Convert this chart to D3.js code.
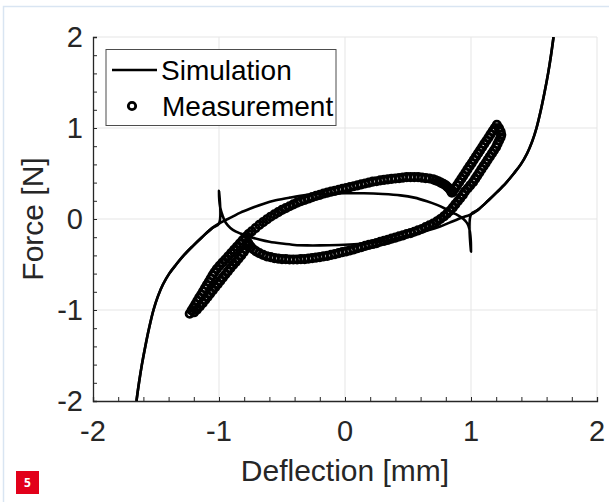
<!DOCTYPE html>
<html>
<head>
<meta charset="utf-8">
<script src="https://cdn.jsdelivr.net/npm/d3@7"></script>
<style>
  body { margin: 0; background: #fff; }
  svg { display: block; font-family: "Liberation Sans", Arial, sans-serif; }
</style>
</head>
<body>
<svg id="chart" width="609" height="502"></svg>
<script>
// Tick values
const xTicks = [-2, -1, 0, 1, 2];
const yTicks = [-2, -1, 0, 1, 2];
const minorStep = 0.2;

// Simulation: loading path (outer left -> spike at -1 -> lower arc -> outer right)
const simLoading = [
  [-1.655,-2],[-1.635,-1.8],[-1.612,-1.6],[-1.585,-1.4],[-1.555,-1.2],[-1.52,-1.0],
  [-1.485,-0.85],[-1.445,-0.72],[-1.395,-0.6],[-1.34,-0.5],[-1.28,-0.4],[-1.21,-0.3],
  [-1.135,-0.2],[-1.055,-0.1],[-1.0,-0.05],
  [-1.0,0.31],[-0.999,0.24],[-0.995,0.17],[-0.986,0.10],[-0.972,0.04],[-0.955,-0.02],
  [-0.93,-0.07],[-0.89,-0.12],[-0.83,-0.16],[-0.76,-0.195],[-0.68,-0.225],[-0.6,-0.25],
  [-0.5,-0.27],[-0.4,-0.285],[-0.3,-0.29],[-0.2,-0.29],[-0.05,-0.285],[0.1,-0.275],
  [0.25,-0.255],[0.4,-0.215],[0.55,-0.165],[0.66,-0.125],[0.75,-0.085],[0.83,-0.04],
  [0.9,0.0],[0.96,0.03],[1.0,0.05],[1.055,0.1],[1.135,0.2],[1.21,0.3],[1.28,0.4],
  [1.34,0.5],[1.395,0.6],[1.445,0.72],[1.485,0.85],[1.52,1.0],[1.555,1.2],[1.585,1.4],
  [1.612,1.6],[1.635,1.8],[1.655,2.0]
];

// Simulation: unloading path (outer right -> spike at 1 -> upper arc -> outer left)
const simUnloading = [
  [1.655,2.0],[1.635,1.8],[1.612,1.6],[1.585,1.4],[1.555,1.2],[1.52,1.0],[1.485,0.85],
  [1.445,0.72],[1.395,0.6],[1.34,0.5],[1.28,0.4],[1.21,0.3],[1.135,0.2],[1.055,0.1],[1.0,0.05],
  [1.0,-0.36],[0.999,-0.26],[0.995,-0.18],[0.987,-0.11],[0.975,-0.06],[0.955,-0.02],
  [0.92,0.02],[0.87,0.06],[0.80,0.11],[0.73,0.155],[0.65,0.195],[0.55,0.235],[0.44,0.26],
  [0.3,0.275],[0.15,0.283],[0.0,0.283],[-0.15,0.278],[-0.3,0.265],[-0.44,0.235],
  [-0.55,0.205],[-0.65,0.165],[-0.75,0.115],[-0.83,0.07],[-0.9,0.02],[-0.96,-0.02],
  [-1.0,-0.05],[-1.055,-0.1],[-1.135,-0.2],[-1.21,-0.3],[-1.28,-0.4],[-1.34,-0.5],
  [-1.395,-0.6],[-1.445,-0.72],[-1.485,-0.85],[-1.52,-1.0],[-1.555,-1.2],[-1.585,-1.4],
  [-1.612,-1.6],[-1.635,-1.8],[-1.655,-2]
];

const measurement = [
  [-1.232,-1.04],[-1.217,-1.005],[-1.202,-0.97],[-1.187,-0.935],[-1.172,-0.90],[-1.157,-0.865],
  [-1.141,-0.83],[-1.126,-0.795],[-1.111,-0.76],[-1.096,-0.725],[-1.081,-0.69],[-1.066,-0.655],
  [-1.051,-0.62],[-1.036,-0.585],[-1.018,-0.55],[-0.996,-0.515],[-0.973,-0.48],[-0.95,-0.445],
  [-0.927,-0.41],[-0.904,-0.375],[-0.881,-0.34],[-0.859,-0.305],[-0.836,-0.27],[-0.813,-0.235],
  [-0.79,-0.20],[-0.766,-0.165],
  [-0.74,-0.135],[-0.71,-0.10],[-0.68,-0.065],[-0.65,-0.035],[-0.62,-0.005],[-0.59,0.025],
  [-0.56,0.05],[-0.53,0.075],[-0.50,0.10],[-0.47,0.12],[-0.44,0.14],[-0.41,0.16],[-0.38,0.18],
  [-0.35,0.195],[-0.32,0.21],[-0.29,0.225],[-0.26,0.24],[-0.23,0.255],[-0.20,0.265],[-0.17,0.28],
  [-0.14,0.29],[-0.11,0.30],[-0.08,0.31],[-0.05,0.32],[-0.02,0.33],[0.01,0.34],[0.04,0.35],
  [0.07,0.36],[0.10,0.37],[0.13,0.38],[0.16,0.39],[0.19,0.40],[0.22,0.41],[0.25,0.415],
  [0.28,0.425],[0.31,0.43],[0.34,0.435],[0.37,0.44],[0.40,0.445],[0.43,0.45],[0.46,0.455],
  [0.49,0.46],[0.52,0.46],[0.55,0.46],[0.58,0.46],[0.61,0.455],[0.64,0.45],[0.67,0.445],
  [0.70,0.435],[0.72,0.425],[0.74,0.415],[0.76,0.40],[0.78,0.385],[0.80,0.37],[0.815,0.35],
  [0.83,0.33],[0.84,0.31],[0.848,0.29],
  [0.856,0.30],[0.873,0.335],[0.889,0.37],[0.906,0.405],[0.923,0.44],[0.939,0.475],[0.956,0.51],
  [0.972,0.545],[0.989,0.58],[1.006,0.615],[1.022,0.65],[1.039,0.685],[1.056,0.72],[1.072,0.755],
  [1.089,0.79],[1.105,0.825],[1.122,0.86],[1.139,0.895],[1.155,0.93],[1.172,0.965],[1.188,1.0],
  [1.205,1.035],[1.222,1.0],[1.235,0.96],[1.24,0.925],
  [1.234,0.895],[1.222,0.86],[1.21,0.825],[1.199,0.79],[1.182,0.755],[1.166,0.72],[1.149,0.685],
  [1.132,0.65],[1.116,0.615],[1.099,0.58],[1.082,0.545],[1.066,0.51],[1.049,0.475],[1.033,0.44],
  [1.016,0.405],[0.994,0.37],[0.973,0.335],[0.951,0.30],[0.935,0.265],[0.915,0.23],[0.895,0.195],
  [0.875,0.16],[0.855,0.125],[0.833,0.09],[0.81,0.06],[0.785,0.03],[0.757,0.0],[0.73,-0.025],
  [0.70,-0.05],[0.67,-0.07],[0.64,-0.09],[0.61,-0.11],[0.58,-0.125],[0.55,-0.14],[0.52,-0.155],
  [0.49,-0.165],[0.46,-0.18],[0.43,-0.19],[0.40,-0.205],[0.37,-0.215],[0.34,-0.23],[0.31,-0.24],
  [0.28,-0.25],[0.25,-0.265],[0.22,-0.275],[0.19,-0.285],[0.16,-0.295],[0.13,-0.31],[0.10,-0.32],
  [0.07,-0.335],[0.04,-0.345],[0.01,-0.355],[-0.02,-0.365],[-0.05,-0.375],[-0.08,-0.385],
  [-0.11,-0.395],[-0.14,-0.405],[-0.17,-0.41],[-0.20,-0.42],[-0.23,-0.425],[-0.26,-0.43],
  [-0.29,-0.435],[-0.32,-0.44],[-0.35,-0.44],[-0.38,-0.445],[-0.41,-0.445],[-0.44,-0.445],
  [-0.47,-0.44],[-0.50,-0.44],[-0.53,-0.435],[-0.56,-0.43],[-0.59,-0.42],[-0.62,-0.41],
  [-0.65,-0.395],[-0.68,-0.375],[-0.705,-0.355],[-0.725,-0.335],[-0.745,-0.31],[-0.76,-0.285],
  [-0.77,-0.26],
  [-0.772,-0.295],[-0.788,-0.33],[-0.805,-0.365],[-0.824,-0.40],[-0.845,-0.435],[-0.866,-0.47],
  [-0.888,-0.505],[-0.91,-0.54],[-0.93,-0.575],[-0.95,-0.61],[-0.97,-0.645],[-0.99,-0.68],
  [-1.01,-0.715],[-1.03,-0.75],[-1.05,-0.785],[-1.07,-0.82],[-1.09,-0.855],[-1.11,-0.89],
  [-1.13,-0.925],[-1.152,-0.96],[-1.175,-0.995],[-1.198,-1.025]
];

const svg = d3.select('#chart');
const axisColor = '#262626';

// light frame round the figure
svg.append('rect')
  .attr('x', 3.5).attr('y', 6.5)
  .attr('width', 700).attr('height', 600)
  .attr('fill', 'none')
  .attr('stroke', '#d9e5f2')
  .attr('stroke-width', 1.5);

// Plot area
const plotLeft = 93, plotRight = 597, plotTop = 37, plotBottom = 401;

const x = d3.scaleLinear().domain([-2, 2]).range([plotLeft, plotRight]);
const y = d3.scaleLinear().domain([-2, 2]).range([plotBottom, plotTop]);

// clip path
svg.append('defs').append('clipPath').attr('id', 'plot-clip')
  .append('rect')
  .attr('x', plotLeft).attr('y', plotTop)
  .attr('width', plotRight - plotLeft).attr('height', plotBottom - plotTop);

// Grid lines
const grid = svg.append('g');
grid.selectAll('line.gx')
  .data(xTicks.filter(d => d > -2))
  .join('line')
  .attr('class', 'gx')
  .attr('x1', d => x(d)).attr('x2', d => x(d))
  .attr('y1', plotTop).attr('y2', plotBottom)
  .attr('stroke', '#e5e5e5').attr('stroke-width', 1);
grid.selectAll('line.gy')
  .data(yTicks.filter(d => d > -2))
  .join('line')
  .attr('class', 'gy')
  .attr('x1', plotLeft).attr('x2', plotRight)
  .attr('y1', d => y(d)).attr('y2', d => y(d))
  .attr('stroke', '#e5e5e5').attr('stroke-width', 1);

// Axes (MATLAB style: ticks pointing inward, minor ticks every 0.2)
const minorTicks = d3.range(-2, 2.0001, minorStep).map(v => Math.round(v * 10) / 10);

const xAxis = d3.axisBottom(x)
  .tickValues(minorTicks)
  .tickSize(-4)
  .tickFormat('');
const yAxis = d3.axisLeft(y)
  .tickValues(minorTicks)
  .tickSize(-4)
  .tickFormat('');

const gx = svg.append('g')
  .attr('transform', `translate(0,${plotBottom})`)
  .call(xAxis);
const gy = svg.append('g')
  .attr('transform', `translate(${plotLeft},0)`)
  .call(yAxis);

[gx, gy].forEach(g => {
  g.select('.domain').attr('stroke', axisColor).attr('stroke-width', 1.3);
  g.selectAll('.tick line').attr('stroke', axisColor).attr('stroke-width', 1);
});

// Tick labels
svg.append('g').selectAll('text')
  .data(xTicks)
  .join('text')
  .attr('x', d => x(d))
  .attr('y', plotBottom + 40)
  .attr('text-anchor', 'middle')
  .style('font-size', '29px')
  .style('fill', axisColor)
  .text(d => d);

svg.append('g').selectAll('text')
  .data(yTicks)
  .join('text')
  .attr('x', plotLeft - 10)
  .attr('y', d => y(d))
  .attr('dy', '0.36em')
  .attr('text-anchor', 'end')
  .style('font-size', '29px')
  .style('fill', axisColor)
  .text(d => d);

// Axis titles
svg.append('text')
  .attr('x', (plotLeft + plotRight) / 2)
  .attr('y', 481)
  .attr('text-anchor', 'middle')
  .style('font-size', '30px')
  .style('fill', axisColor)
  .text('Deflection [mm]');

svg.append('text')
  .attr('transform', `translate(43,${(plotTop + plotBottom) / 2}) rotate(-90)`)
  .attr('text-anchor', 'middle')
  .style('font-size', '30px')
  .style('fill', axisColor)
  .text('Force [N]');

// Data layer
const plot = svg.append('g').attr('clip-path', 'url(#plot-clip)');

const line = d3.line()
  .x(d => x(d[0]))
  .y(d => y(d[1]))
  .curve(d3.curveCatmullRom.alpha(0.5));

plot.selectAll('path.sim')
  .data([simLoading, simUnloading])
  .join('path')
  .attr('class', 'sim')
  .attr('d', line)
  .attr('fill', 'none')
  .attr('stroke', '#000')
  .attr('stroke-width', 2.6)
  .attr('stroke-linejoin', 'round');

plot.selectAll('circle.meas')
  .data(measurement)
  .join('circle')
  .attr('class', 'meas')
  .attr('cx', d => x(d[0]))
  .attr('cy', d => y(d[1]))
  .attr('r', 3.7)
  .attr('fill', 'none')
  .attr('stroke', '#000')
  .attr('stroke-width', 2.8);

// Legend
const legend = svg.append('g');
legend.append('rect')
  .attr('x', 106).attr('y', 49.5)
  .attr('width', 230).attr('height', 76)
  .attr('fill', '#fff')
  .attr('stroke', '#4d4d4d')
  .attr('stroke-width', 1);
legend.append('line')
  .attr('x1', 112).attr('x2', 157)
  .attr('y1', 70).attr('y2', 70)
  .attr('stroke', '#000').attr('stroke-width', 2.6);
legend.append('text')
  .attr('x', 161).attr('y', 80)
  .style('font-size', '28px')
  .style('fill', '#000')
  .text('Simulation');
legend.append('circle')
  .attr('cx', 132).attr('cy', 106)
  .attr('r', 3.7)
  .attr('fill', 'none')
  .attr('stroke', '#000').attr('stroke-width', 2.8);
legend.append('text')
  .attr('x', 162).attr('y', 116)
  .style('font-size', '28px')
  .style('fill', '#000')
  .text('Measurement');

// Figure number badge
svg.append('rect')
  .attr('x', 16).attr('y', 471)
  .attr('width', 23).attr('height', 23)
  .attr('fill', '#e2001a');
svg.append('text')
  .attr('x', 27.5).attr('y', 487)
  .attr('text-anchor', 'middle')
  .style('font-family', '"Open Sans", "DejaVu Sans", sans-serif')
  .style('font-size', '12px')
  .style('font-weight', 'bold')
  .style('fill', '#fff')
  .text('5');
</script>
</body>
</html>
